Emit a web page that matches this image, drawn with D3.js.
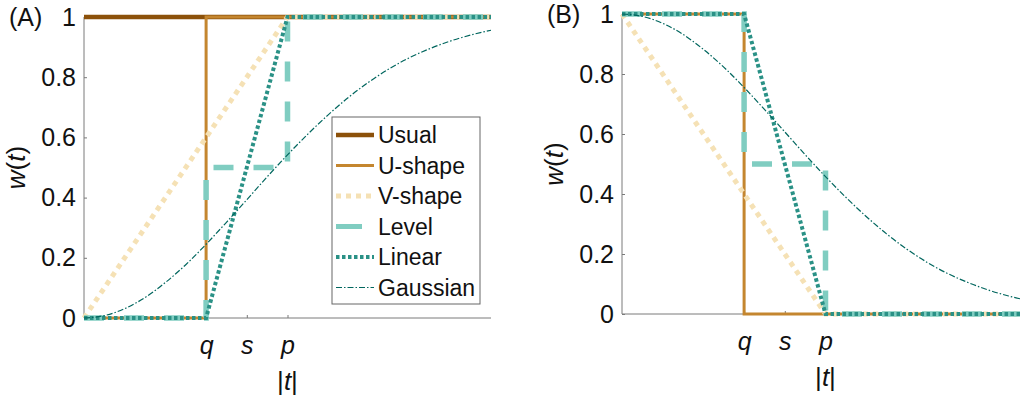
<!DOCTYPE html>
<html>
<head>
    <style>
        body { margin: 0; background: #fff; }
        svg { display: block; font-family: "Liberation Sans", Arial, sans-serif; }
    </style>
</head>
<body>
    <svg width="1020" height="401"></svg>

    <script src="https://d3js.org/d3.v7.min.js"></script>
    <script>
        // tick positions on |t| and their labels
        const xTicks = [3, 4, 5];
        const xTickLabels = ["q", "s", "p"];
        const yTicks = [0, 0.2, 0.4, 0.6, 0.8, 1];

        // panel A: increasing weights
        const usualA  = [[0, 1], [10, 1]];
        const ushapeA = [[0, 0], [3, 0], [3, 1], [10, 1]];
        const vshapeA = [[0, 0], [5, 1], [10, 1]];
        const levelA  = [[0, 0], [3, 0], [3, 0.5], [5, 0.5], [5, 1], [10, 1]];
        const linearA = [[0, 0], [3, 0], [5, 1], [10, 1]];

        // panel B: decreasing weights
        const ushapeB = [[0, 1], [3, 1], [3, 0], [10, 0]];
        const vshapeB = [[0, 1], [5, 0], [10, 0]];
        const levelB  = [[0, 1], [3, 1], [3, 0.5], [5, 0.5], [5, 0], [10, 0]];
        const linearB = [[0, 1], [3, 1], [5, 0], [10, 0]];

        // gaussian curves, read every 0.5 on |t|
        const gaussT = [0, 0.5, 1, 1.5, 2, 2.5, 3, 3.5, 4, 4.5, 5, 5.5, 6, 6.5, 7, 7.5, 8, 8.5, 9, 9.5, 10];
        const gaussA = [0, 0.008, 0.031, 0.068, 0.118, 0.177, 0.245, 0.318, 0.393, 0.469, 0.542,
                        0.611, 0.675, 0.733, 0.784, 0.828, 0.865, 0.895, 0.920, 0.940, 0.956];
        const gaussB = [1, 0.992, 0.969, 0.932, 0.882, 0.823, 0.755, 0.682, 0.607, 0.531, 0.458,
                        0.389, 0.325, 0.267, 0.216, 0.172, 0.135, 0.105, 0.080, 0.060, 0.044];

        const legendNames = ["Usual", "U-shape", "V-shape", "Level", "Linear", "Gaussian"];

        const styles = {
            "Usual":    { color: "#8c510a", width: 4.5, dash: null },
            "U-shape":  { color: "#c4862f", width: 3, dash: null },
            "V-shape":  { color: "#f5e1b5", width: 5, dash: "5,5" },
            "Level":    { color: "#80cdc1", width: 5.5, dash: "20,20" },
            "Linear":   { color: "#2a9186", width: 4, dash: "3.5,2.5" },
            "Gaussian": { color: "#01665e", width: 1.2, dash: "6,2,1.5,2" }
        };

        const svg = d3.select("svg");

        function drawPanel(left, top, bottom, tag, series) {
            const x = d3.scaleLinear().domain([0, 10]).range([left, left + 407]);
            const y = d3.scaleLinear().domain([0, 1]).range([bottom, top]);
            const g = svg.append("g");

            // axes
            const yAxis = g.append("g")
                .attr("transform", `translate(${left},0)`)
                .call(d3.axisLeft(y).tickValues(yTicks).tickSize(-3)
                    .tickFormat(d => d === 0 || d === 1 ? d3.format("d")(d) : d3.format(".1f")(d)));
            const xAxis = g.append("g")
                .attr("transform", `translate(0,${bottom})`)
                .call(d3.axisBottom(x).tickValues(xTicks).tickSize(-3)
                    .tickFormat((d, i) => xTickLabels[i]));

            [yAxis, xAxis].forEach(a => {
                a.select(".domain").attr("stroke", "#7a7a7a").attr("stroke-width", 1);
                a.selectAll(".tick line").attr("stroke", "#7a7a7a");
                a.selectAll("text").attr("fill", "#111").attr("font-size", 25)
                    .attr("font-family", "Liberation Sans, Arial, sans-serif");
            });
            yAxis.select(".domain").attr("d", `M0,${bottom}V${top}`);
            xAxis.select(".domain").attr("d", `M${left},0H${left + 407}`);
            yAxis.selectAll(".tick text").attr("x", -8);
            xAxis.selectAll(".tick text").attr("y", 18).attr("font-style", "italic");

            // lines
            const line = d3.line().x(d => x(d[0])).y(d => y(d[1]));
            const curve = d3.line().x(d => x(d[0])).y(d => y(d[1])).curve(d3.curveMonotoneX);
            series.forEach(s => {
                const st = styles[s.name];
                g.append("path")
                    .attr("d", s.smooth ? curve(s.data) : line(s.data))
                    .attr("fill", "none")
                    .attr("stroke", st.color)
                    .attr("stroke-width", st.width)
                    .attr("stroke-dasharray", st.dash);
            });

            // axis titles
            g.append("text")
                .attr("transform", `translate(${left - 59},${(top + bottom) / 2}) rotate(-90)`)
                .attr("text-anchor", "middle")
                .attr("font-size", 26)
                .attr("fill", "#111")
                .call(t => {
                    t.append("tspan").attr("font-style", "italic").text("w");
                    t.append("tspan").text("(");
                    t.append("tspan").attr("font-style", "italic").text("t");
                    t.append("tspan").text(")");
                });

            g.append("text")
                .attr("x", x(5)).attr("y", bottom + 72)
                .attr("text-anchor", "middle")
                .attr("font-size", 26)
                .attr("fill", "#111")
                .call(t => {
                    t.append("tspan").text("|");
                    t.append("tspan").attr("font-style", "italic").text("t");
                    t.append("tspan").text("|");
                });

            g.append("text")
                .attr("x", left - 75).attr("y", top + 9)
                .attr("font-size", 25)
                .attr("fill", "#111")
                .text(tag);
        }

        const toPts = vals => gaussT.map((t, i) => [t, vals[i]]);

        drawPanel(84, 17, 318, "(A)", [
            { name: "Usual", data: usualA },
            { name: "U-shape", data: ushapeA },
            { name: "V-shape", data: vshapeA },
            { name: "Level", data: levelA },
            { name: "Linear", data: linearA },
            { name: "Gaussian", data: toPts(gaussA), smooth: true }
        ]);

        drawPanel(622, 14, 314, "(B)", [
            { name: "U-shape", data: ushapeB },
            { name: "V-shape", data: vshapeB },
            { name: "Level", data: levelB },
            { name: "Linear", data: linearB },
            { name: "Gaussian", data: toPts(gaussB), smooth: true }
        ]);

        // legend in panel A
        const legend = svg.append("g").attr("transform", "translate(332,117)");
        legend.append("rect")
            .attr("width", 148).attr("height", 187)
            .attr("fill", "#fff")
            .attr("stroke", "#666").attr("stroke-width", 1);
        legendNames.forEach((name, i) => {
            const st = styles[name];
            const cy = 18 + i * 30.5;
            legend.append("line")
                .attr("x1", 4).attr("x2", name === "Level" ? 30 : 42)
                .attr("y1", cy).attr("y2", cy)
                .attr("stroke", st.color)
                .attr("stroke-width", name === "Level" ? 5 : st.width)
                .attr("stroke-dasharray", name === "Level" ? null : st.dash);
            legend.append("text")
                .attr("x", 46).attr("y", cy + 8)
                .attr("font-size", 23)
                .attr("fill", "#111")
                .text(name);
        });
    </script>
</body>
</html>
